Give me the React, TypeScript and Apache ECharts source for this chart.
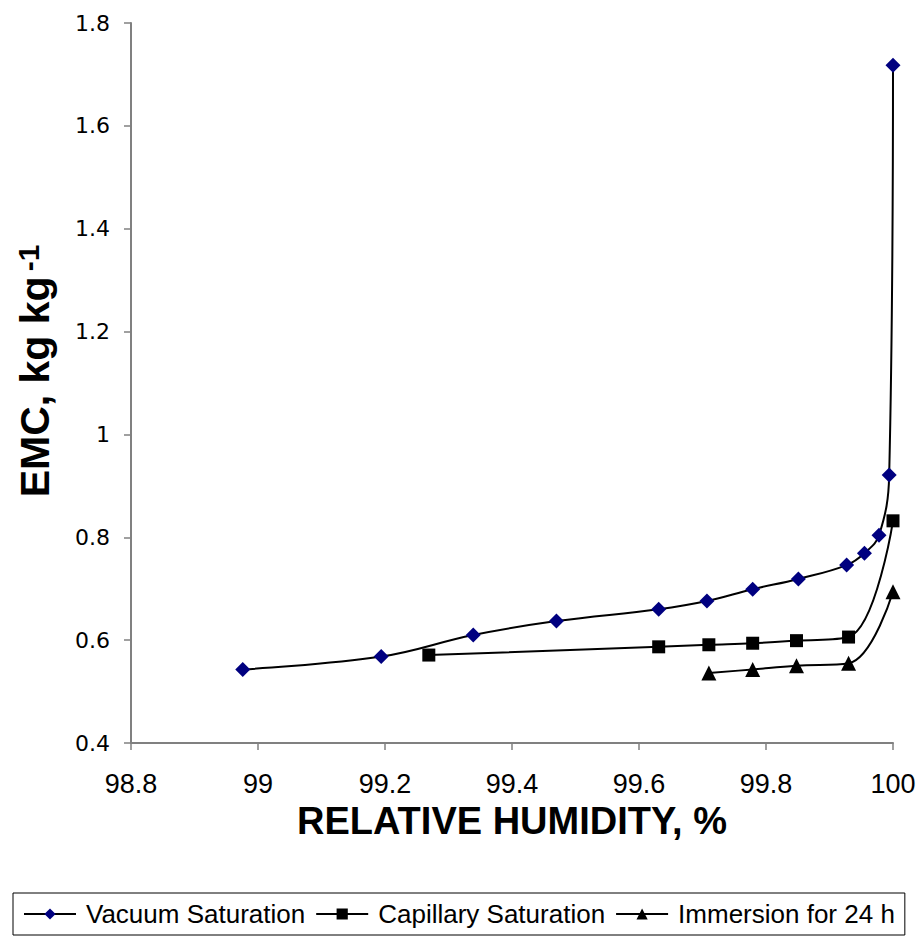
import React, { useEffect, useRef } from "react";
import * as echarts from "echarts";

const vacuumX = [98.976, 99.194, 99.339, 99.47, 99.631, 99.707, 99.779, 99.851, 99.927, 99.955, 99.978, 99.994, 100];
const vacuumY = [0.543, 0.568, 0.61, 0.637, 0.66, 0.676, 0.699, 0.719, 0.746, 0.769, 0.804, 0.921, 1.718];
const capX = [99.269, 99.631, 99.71, 99.779, 99.848, 99.93, 100];
const capY = [0.571, 0.587, 0.591, 0.594, 0.599, 0.606, 0.832];
const immX = [99.71, 99.779, 99.848, 99.93, 100];
const immY = [0.536, 0.543, 0.55, 0.555, 0.694];

const seriesNames = ["Vacuum Saturation", "Capillary Saturation", "Immersion for 24 h"];
const xTitle = "RELATIVE HUMIDITY, %";
const yTitle = "EMC, kg kg";
const ySup = "-1";

const zip = (xs: number[], ys: number[]) => xs.map((x, i) => [x, ys[i]]);

export default function App() {
  const ref = useRef<HTMLDivElement>(null);
  useEffect(() => {
    if (!ref.current) return;
    const chart = echarts.init(ref.current, null, { renderer: "svg" });
    const axisGray = "#808080";
    chart.setOption({
      animation: false,
      backgroundColor: "#ffffff",
      grid: { left: 131, right: 26, top: 23, bottom: 194 },
      legend: {
        left: 13,
        top: 893,
        padding: [8, 10, 8, 10],
        borderColor: "#000000",
        borderWidth: 1,
        itemWidth: 52,
        itemHeight: 14,
        itemGap: 10,
        textStyle: {
          fontFamily: "Liberation Sans, Arial, sans-serif",
          fontSize: 26,
          color: "#000000",
          padding: [0, 0, 0, 5],
        },
        data: seriesNames,
      },
      xAxis: {
        type: "value",
        min: 98.8,
        max: 100,
        interval: 0.2,
        name: xTitle,
        nameLocation: "middle",
        nameGap: 34,
        nameTextStyle: {
          fontFamily: "Liberation Sans, Arial, sans-serif",
          fontWeight: "bold",
          fontSize: 38,
          color: "#000000",
          verticalAlign: "top",
          padding: [12, 0, 0, 0],
        },
        axisLine: { lineStyle: { color: axisGray, width: 2 } },
        axisTick: { show: true, inside: false, length: 7, lineStyle: { color: axisGray, width: 1.5 } },
        splitLine: { show: false },
        axisLabel: {
          margin: 27,
          fontFamily: "Liberation Sans, Arial, sans-serif",
          fontSize: 27,
          color: "#000000",
        },
      },
      yAxis: {
        type: "value",
        min: 0.4,
        max: 1.8,
        interval: 0.2,
        name: "{a|" + yTitle + "}{s|" + ySup + "}",
        nameLocation: "middle",
        nameGap: 74,
        nameTextStyle: {
          padding: [0, 0, 0, 24],
          rich: {
            a: {
              fontFamily: "Liberation Sans, Arial, sans-serif",
              fontWeight: "bold",
              fontSize: 41,
              color: "#000000",
            },
            s: {
              fontFamily: "Liberation Sans, Arial, sans-serif",
              fontWeight: "bold",
              fontSize: 30,
              color: "#000000",
              verticalAlign: "top",
              padding: [0, 0, 14, 5],
            },
          },
        },
        axisLine: { show: true, lineStyle: { color: axisGray, width: 2 } },
        axisTick: { show: true, inside: false, length: 7, lineStyle: { color: axisGray, width: 1.5 } },
        splitLine: { show: false },
        axisLabel: {
          margin: 21,
          fontFamily: "DejaVu Sans, sans-serif",
          fontSize: 22,
          color: "#000000",
        },
      },
      series: [
        {
          name: seriesNames[0],
          type: "line",
          smooth: 0.4,
          data: zip(vacuumX, vacuumY),
          symbol: "diamond",
          symbolSize: 15,
          itemStyle: { color: "#000080" },
          lineStyle: { color: "#000000", width: 2 },
          z: 3,
        },
        {
          name: seriesNames[1],
          type: "line",
          smooth: 0.4,
          data: zip(capX, capY),
          symbol: "rect",
          symbolSize: 13,
          itemStyle: { color: "#000000" },
          lineStyle: { color: "#000000", width: 2 },
          z: 2,
        },
        {
          name: seriesNames[2],
          type: "line",
          smooth: 0.4,
          data: zip(immX, immY),
          symbol: "triangle",
          symbolSize: 15,
          itemStyle: { color: "#000000" },
          lineStyle: { color: "#000000", width: 2 },
          z: 2,
        },
      ],
    });
    return () => chart.dispose();
  }, []);
  return <div ref={ref} style={{ width: 919, height: 937, position: "absolute", left: 0, top: 0 }} />;
}
